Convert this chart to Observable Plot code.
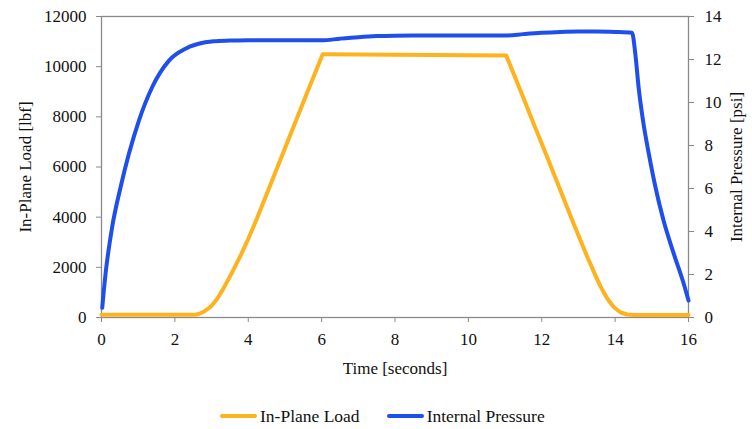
<!DOCTYPE html>
<html>
<head>
<meta charset="utf-8">
<script src="https://cdn.jsdelivr.net/npm/d3@7"></script>
<script src="https://cdn.jsdelivr.net/npm/@observablehq/plot@0.6"></script>
<style>
  html, body { margin: 0; padding: 0; background: #fff; overflow: hidden; }
  #chart { position: relative; width: 752px; height: 429px; font-family: "Liberation Serif", serif; }
  #chart svg, #chart svg text { font-family: "Liberation Serif", serif !important; font-variant: normal !important; }
  #legend { position: absolute; left: 220px; top: 406px; display: flex; align-items: center; font-size: 17.5px; line-height: 20px; color: #111; white-space: nowrap; }
  .item { display: flex; align-items: center; margin-right: 27px; }
  .swatch { width: 37px; height: 4px; border-radius: 2px; margin-right: 3px; }
</style>
</head>
<body>
<div id="chart"><div id="legend"></div></div>
<script>
// In-plane load (lbf) over time (s)
const loadTime = [0, 1, 2, 2.55, 2.65, 2.8, 2.97, 3.15, 3.33, 3.55, 3.79, 4.0, 4.24, 4.70, 5.15, 5.61, 6.03, 6.1, 7, 8, 9, 10, 11.03, 11.42, 11.78, 12.15, 12.51, 12.87, 13.24, 13.45, 13.60, 13.78, 13.96, 14.15, 14.33, 14.5, 15, 16];
const loadLbf  = [110, 110, 110, 110, 140, 240, 420, 740, 1170, 1770, 2470, 3130, 3960, 5640, 7300, 8980, 10500, 10500, 10490, 10480, 10470, 10460, 10450, 9050, 7720, 6390, 5060, 3740, 2420, 1720, 1240, 770, 420, 200, 120, 100, 100, 100];

// Internal pressure (psi) over time (s)
const pressTime = [0.02, 0.06, 0.11, 0.29, 0.52, 0.745, 1.02, 1.38, 1.84, 2.29, 2.83, 3.06, 3.5, 4, 5, 6, 6.5, 7, 7.5, 8, 9, 10, 11.06, 11.5, 12, 12.5, 13, 13.5, 14, 14.46, 14.55, 14.64, 14.76, 14.92, 15.1, 15.32, 15.6, 15.87, 16];
const pressPsi  = [0.45, 1.2, 2.03, 4.2, 6.06, 7.6, 9.16, 10.71, 11.95, 12.5, 12.8, 12.85, 12.88, 12.9, 12.9, 12.89, 12.97, 13.04, 13.09, 13.11, 13.12, 13.12, 13.12, 13.18, 13.24, 13.28, 13.3, 13.3, 13.28, 13.24, 12.27, 10.71, 9.16, 7.6, 6.06, 4.51, 2.96, 1.57, 0.79];

const xTicks = [0, 2, 4, 6, 8, 10, 12, 14, 16];
const loadTicks = [0, 2000, 4000, 6000, 8000, 10000, 12000];
const psiTicks = [0, 2, 4, 6, 8, 10, 12, 14];

const seriesNames = ["In-Plane Load", "Internal Pressure"];
const seriesColors = ["#FDB21E", "#1F4FEA"];

// The right axis shares the left scale: 14 psi sits at 12000 lbf.
const LBF_MAX = 12000, PSI_MAX = 14;
const psiToLbf = p => p * LBF_MAX / PSI_MAX;

const load = loadTime.map((t, i) => ({t, v: loadLbf[i]}));
const press = pressTime.map((t, i) => ({t, v: pressPsi[i]}));

const grey = "#8a8a8a";

const chart = Plot.plot({
  width: 752,
  height: 400,
  marginLeft: 101,
  marginRight: 64,
  marginTop: 16,
  marginBottom: 83,
  style: {fontFamily: "'Liberation Serif', serif", fontSize: "17px", color: "#111", background: "#fff"},
  x: {domain: [0, 16]},
  y: {domain: [0, LBF_MAX]},
  marks: [
    Plot.frame({stroke: grey, strokeWidth: 1.3}),
    Plot.axisX(xTicks, {tickSize: 5, tickPadding: 10, stroke: grey, tickFormat: d => String(d),
      label: "Time [seconds]", labelAnchor: "center", labelArrow: "none", labelOffset: 56}),
    Plot.axisY(loadTicks, {anchor: "left", tickSize: 5, tickPadding: 10, stroke: grey, tickFormat: d => String(d),
      label: "In-Plane Load [lbf]", labelAnchor: "center", labelArrow: "none", labelOffset: 83}),
    Plot.axisY(psiTicks.map(psiToLbf), {anchor: "right", tickSize: 5, tickPadding: 11, stroke: grey,
      tickFormat: d => String(Math.round(d * PSI_MAX / LBF_MAX)),
      label: "Internal Pressure [psi]", labelAnchor: "center", labelArrow: "none", labelOffset: 53}),
    Plot.line(load, {x: "t", y: "v", stroke: seriesColors[0], strokeWidth: 4, curve: "linear", strokeLinejoin: "round"}),
    Plot.line(press, {x: "t", y: d => psiToLbf(d.v), stroke: seriesColors[1], strokeWidth: 4, curve: "monotone-x"})
  ]
});

const root = document.getElementById("chart");
root.insertBefore(chart, root.firstChild);

const legend = document.getElementById("legend");
seriesNames.forEach((name, i) => {
  const item = document.createElement("div");
  item.className = "item";
  const sw = document.createElement("div");
  sw.className = "swatch";
  sw.style.background = seriesColors[i];
  const label = document.createElement("span");
  label.textContent = name;
  item.appendChild(sw);
  item.appendChild(label);
  legend.appendChild(item);
});
</script>
</body>
</html>
